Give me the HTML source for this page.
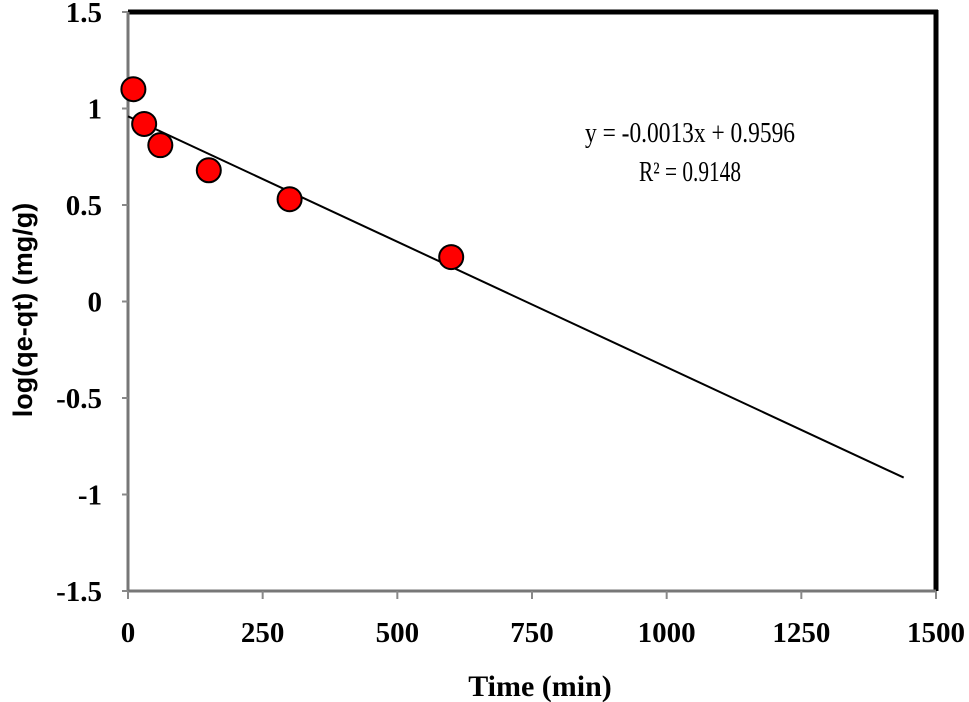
<!DOCTYPE html>
<html><head><meta charset="utf-8"><style>
body{margin:0;background:#fff;}
svg{display:block;font-family:"Liberation Serif",serif;}
</style></head><body>
<svg width="969" height="702">
<g id="grid"></g>
<g id="axes"></g>
<g id="marks"></g>
<text x="690" y="142" font-size="28" text-anchor="middle" textLength="210" lengthAdjust="spacingAndGlyphs">y = -0.0013x + 0.9596</text>
<text x="690" y="181" font-size="28" text-anchor="middle" textLength="102" lengthAdjust="spacingAndGlyphs">R² = 0.9148</text>
<text x="540" y="696" font-size="30" font-weight="bold" text-anchor="middle">Time (min)</text>
<text transform="translate(32,310) rotate(-90)" font-size="27" font-weight="bold" text-anchor="middle" font-family="Liberation Sans, sans-serif">log(qe-qt) (mg/g)</text>
</svg>
<script>
const xTicks=[0,250,500,750,1000,1250,1500];
const yTicks=[1.5,1,0.5,0,-0.5,-1,-1.5];
const yTickLabels=["1.5","1","0.5","0","-0.5","-1","-1.5"];
const timeValues=[10,30,60,150,300,600];
const logValues=[1.1,0.92,0.81,0.68,0.53,0.23];
const slope=-0.0013, intercept=0.9596, fitStart=0, fitEnd=1440;
const X0=128,X1=936,Y0=12,Y1=591;
const sx=v=>X0+(v-0)/(1500-0)*(X1-X0);
const sy=v=>Y0+(1.5-v)/3*(Y1-Y0);
const NS="http://www.w3.org/2000/svg";
function mk(tag,attrs,parent,txt){const e=document.createElementNS(NS,tag);for(const k in attrs)e.setAttribute(k,attrs[k]);if(txt!==undefined)e.textContent=txt;document.getElementById(parent).appendChild(e);return e;}
let e=mk('rect',{x:X0,y:Y0,width:X1-X0,height:Y1-Y0,fill:'none',stroke:'#000','stroke-width':1},'axes');

e=mk('line',{x1:X0,y1:Y0,x2:X1+2,y2:Y0,stroke:'#000','stroke-width':5},'axes');

e=mk('line',{x1:X1,y1:Y0-2,x2:X1,y2:Y1,stroke:'#000','stroke-width':5},'axes');

e=mk('line',{x1:X0,y1:Y0,x2:X0,y2:Y1,stroke:'#777','stroke-width':3},'axes');

e=mk('line',{x1:X0,y1:Y1,x2:X1,y2:Y1,stroke:'#777','stroke-width':3},'axes');

xTicks.forEach(t=>{
 e=mk('line',{x1:sx(t),y1:Y1,x2:sx(t),y2:Y1+8,stroke:'#888','stroke-width':2},'axes');
 
 e=mk('text',{x:sx(t),y:Y1+51,'font-size':29,'font-weight':'bold','text-anchor':'middle'},'axes',String(t));
 
});
yTicks.forEach((t,i)=>{
 e=mk('line',{x1:X0-6,y1:sy(t),x2:X0,y2:sy(t),stroke:'#888','stroke-width':2},'axes');
 
 e=mk('text',{x:X0-26,y:sy(t)+10,'font-size':29,'font-weight':'bold','text-anchor':'end'},'axes',yTickLabels[i]);
 
});
e=mk('line',{x1:sx(fitStart),y1:sy(intercept+slope*fitStart),x2:sx(fitEnd),y2:sy(intercept+slope*fitEnd),stroke:'#000','stroke-width':2},'marks');

timeValues.forEach((t,i)=>{
 e=mk('circle',{cx:sx(t),cy:sy(logValues[i]),r:12,fill:'#ff0000',stroke:'#000','stroke-width':2},'marks');
 
});
</script>
</body></html>
